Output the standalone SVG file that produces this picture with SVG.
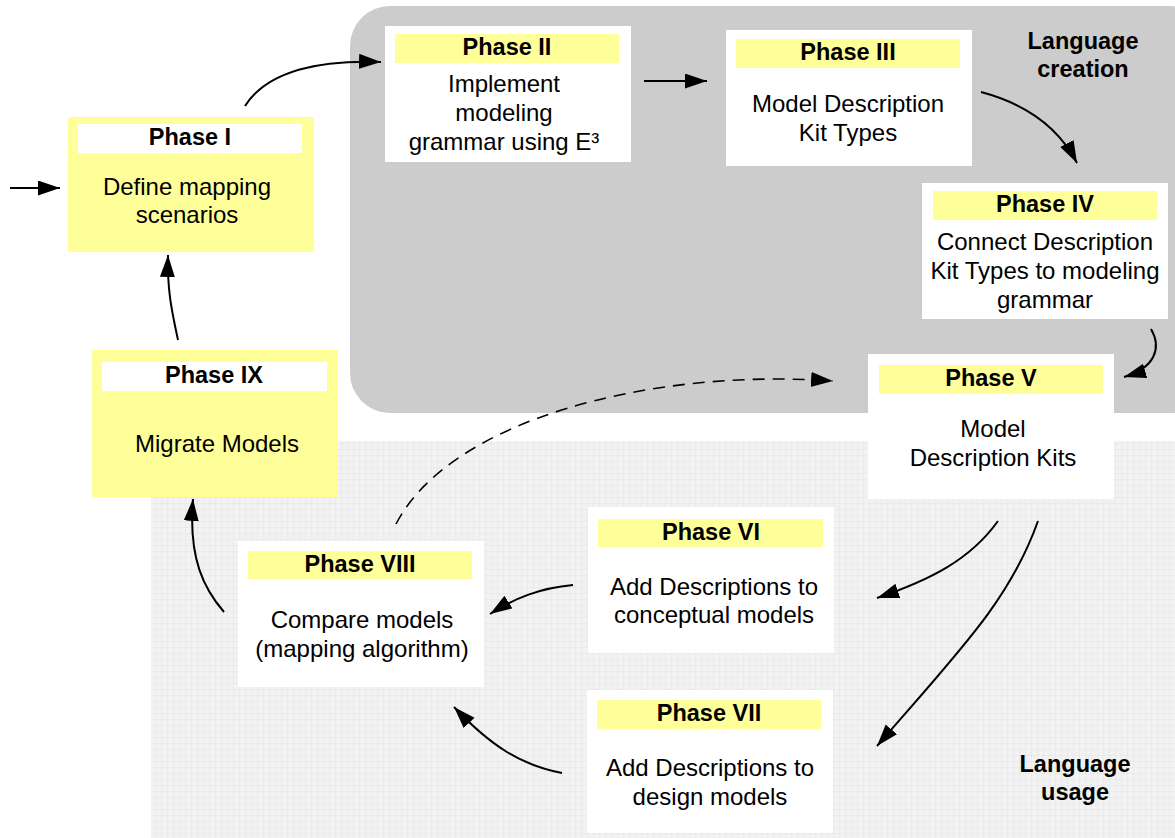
<svg xmlns="http://www.w3.org/2000/svg" width="1175" height="838" viewBox="0 0 1175 838">
  <style>
    .box-white { fill: #ffffff; }
    .box-yellow { fill: #ffff99; }
    .hdr-yellow { fill: #ffff99; }
    .hdr-white { fill: #ffffff; }
    .title { font-family: "Liberation Sans", Arial, sans-serif; font-size: 23.5px; font-weight: bold; fill: #000; text-anchor: middle; }
    .body { font-family: "Liberation Sans", Arial, sans-serif; font-size: 24px; fill: #000; text-anchor: middle; }
    .region { font-family: "Liberation Sans", Arial, sans-serif; font-size: 23.5px; font-weight: bold; fill: #000; text-anchor: middle; }
    .conn { fill: none; stroke: #000; stroke-width: 2; marker-end: url(#arrow); }
    .dashed { fill: none; stroke: #000; stroke-width: 1.6; stroke-dasharray: 12 8; marker-end: url(#arrow); }
  </style>
  <defs>
    <marker id="arrow" markerUnits="userSpaceOnUse" markerWidth="24" markerHeight="16" refX="22" refY="7.5" orient="auto">
      <path d="M0,0 L22,7.5 L0,15 z" fill="#000"/>
    </marker>
    <pattern id="grid" width="6" height="6" patternUnits="userSpaceOnUse">
      <rect width="6" height="6" fill="#f2f2f2"/>
      <path d="M6,0 V6 M0,6 H6" stroke="#e4e4e4" stroke-width="1" fill="none"/>
    </pattern>
  </defs>

  <rect width="1175" height="838" fill="#ffffff"/>

  <!-- background areas -->
  <g id="regions">
    <rect x="151" y="441" width="1030" height="400" fill="url(#grid)"/>
    <rect x="350" y="6" width="860" height="407" rx="40" ry="40" fill="#cccccc"/>
    <text class="region" x="1083" y="49">Language</text>
    <text class="region" x="1083" y="77">creation</text>
    <text class="region" x="1075" y="772">Language</text>
    <text class="region" x="1075" y="800">usage</text>
  </g>

  <!-- connectors -->
  <g id="connectors">
    <path class="conn" d="M10,188 L60,188"/>
    <path class="conn" d="M245,106 C268,70 320,60 381,62"/>
    <path class="conn" d="M644,81 L707,81"/>
    <path class="conn" d="M981,92 C1030,105 1060,130 1077,163"/>
    <path class="conn" d="M1151,329 C1162,348 1155,368 1124,377"/>
    <path class="dashed" d="M396,524 C450,420 650,368 833,381"/>
    <path class="conn" d="M998,521 C970,560 930,580 877,598"/>
    <path class="conn" d="M1038,521 C1010,600 960,650 877,746"/>
    <path class="conn" d="M573,585 C540,588 515,598 490,614"/>
    <path class="conn" d="M562,773 C520,765 490,745 454,707"/>
    <path class="conn" d="M224,612 C205,590 188,560 193,499"/>
    <path class="conn" d="M178,340 C172,312 167,290 168,255"/>
  </g>

  <g id="phase1">
    <rect class="box-yellow" x="68" y="117" width="246" height="135"/>
    <rect class="hdr-white" x="78" y="124" width="224" height="29"/>
    <text class="title" x="190" y="145">Phase I</text>
    <text class="body" x="187" y="195">Define mapping</text>
    <text class="body" x="187" y="223">scenarios</text>
  </g>

  <g id="phase2">
    <rect class="box-white" x="385" y="26" width="246" height="136"/>
    <rect class="hdr-yellow" x="395" y="34" width="224" height="29"/>
    <text class="title" x="507" y="55">Phase II</text>
    <text class="body" x="504" y="92">Implement</text>
    <text class="body" x="504" y="121">modeling</text>
    <text class="body" x="504" y="150">grammar using E³</text>
  </g>

  <g id="phase3">
    <rect class="box-white" x="726" y="30" width="246" height="136"/>
    <rect class="hdr-yellow" x="736" y="39" width="224" height="29"/>
    <text class="title" x="848" y="60">Phase III</text>
    <text class="body" x="848" y="112">Model Description</text>
    <text class="body" x="848" y="141">Kit Types</text>
  </g>

  <g id="phase4">
    <rect class="box-white" x="922" y="183" width="246" height="136"/>
    <rect class="hdr-yellow" x="933" y="191" width="224" height="29"/>
    <text class="title" x="1045" y="212">Phase IV</text>
    <text class="body" x="1045" y="250">Connect Description</text>
    <text class="body" x="1045" y="279">Kit Types to modeling</text>
    <text class="body" x="1045" y="308">grammar</text>
  </g>

  <g id="phase5">
    <rect class="box-white" x="868" y="354" width="246" height="145"/>
    <rect class="hdr-yellow" x="879" y="365" width="224" height="29"/>
    <text class="title" x="991" y="386">Phase V</text>
    <text class="body" x="993" y="437">Model</text>
    <text class="body" x="993" y="466">Description Kits</text>
  </g>

  <g id="phase6">
    <rect class="box-white" x="588" y="507" width="246" height="146"/>
    <rect class="hdr-yellow" x="598" y="519" width="225" height="28"/>
    <text class="title" x="711" y="540">Phase VI</text>
    <text class="body" x="714" y="595">Add Descriptions to</text>
    <text class="body" x="714" y="623">conceptual models</text>
  </g>

  <g id="phase7">
    <rect class="box-white" x="587" y="690" width="246" height="143"/>
    <rect class="hdr-yellow" x="597" y="700" width="224" height="29"/>
    <text class="title" x="709" y="721">Phase VII</text>
    <text class="body" x="710" y="776">Add Descriptions to</text>
    <text class="body" x="710" y="805">design models</text>
  </g>

  <g id="phase8">
    <rect class="box-white" x="238" y="541" width="246" height="146"/>
    <rect class="hdr-yellow" x="248" y="551" width="224" height="28"/>
    <text class="title" x="360" y="572">Phase VIII</text>
    <text class="body" x="362" y="628">Compare models</text>
    <text class="body" x="362" y="657">(mapping algorithm)</text>
  </g>

  <g id="phase9">
    <rect class="box-yellow" x="92" y="350" width="246" height="147"/>
    <rect class="hdr-white" x="102" y="362" width="225" height="29"/>
    <text class="title" x="214" y="383">Phase IX</text>
    <text class="body" x="217" y="452">Migrate Models</text>
  </g>
</svg>
